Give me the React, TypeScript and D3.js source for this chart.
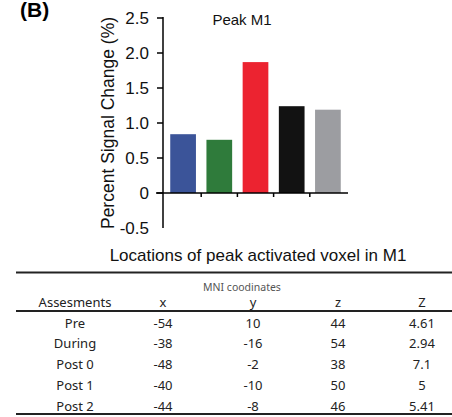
import * as d3 from 'd3'

// Bar chart data
const CATEGORIES = ['Pre', 'During', 'Post 0', 'Post 1', 'Post 2']
const SIGNAL = [0.84, 0.76, 1.87, 1.24, 1.19]
const BAR_COLORS = ['#3b5499', '#2f7b3b', '#ec2330', '#121212', '#9c9da1']
const Y_TICKS = [2.5, 2.0, 1.5, 1.0, 0.5, 0, -0.5]

// Table data
const TABLE_HEAD = ['Assesments', 'x', 'y', 'z', 'Z']
const COORD_X = [-54, -38, -48, -40, -44]
const COORD_Y = [10, -16, -2, -10, -8]
const COORD_Z = [44, 54, 38, 50, 46]
const Z_SCORE = ['4.61', '2.94', '7.1', '5', '5.41']

const W = 452
const H = 417

const App = () => {
  const y = d3.scaleLinear().domain([-0.5, 2.5]).range([228, 18])
  const x = d3.scaleBand().domain(CATEGORIES).range([163, 348]).paddingInner(0.29).paddingOuter(0.2)
  const step = x.step()
  const bw = x.bandwidth()
  const sepTicks = CATEGORIES.slice(1).map(c => (x(c) as number) - (step - bw) / 2)

  const colPos = [75, 163, 253, 338, 422]
  const rowY = d3.scaleLinear().domain([0, 4]).range([323, 406])

  const labelFont = 'Liberation Sans, Arial, sans-serif'
  const tableFont = '"Noto Sans", "DejaVu Sans", sans-serif'

  const rows = CATEGORIES.map((c, i) => [c, String(COORD_X[i]), String(COORD_Y[i]), String(COORD_Z[i]), Z_SCORE[i]])

  return (
    <svg width={W} height={H} style={{ position: 'absolute', left: 0, top: 0, background: '#fff' }}>
      <text x={20} y={17} fontFamily={labelFont} fontWeight="bold" fontSize={21}>(B)</text>

      {/* bars */}
      {CATEGORIES.map((c, i) => (
        <rect key={c} x={x(c)} y={y(SIGNAL[i])} width={bw} height={y(0) - y(SIGNAL[i])} fill={BAR_COLORS[i]} />
      ))}

      {/* y axis */}
      <line x1={163} x2={163} y1={y(2.5) - 1} y2={y(-0.5)} stroke="#000" strokeWidth={1.5} />
      {Y_TICKS.map(t => (
        <g key={t}>
          {t !== -0.5 && <line x1={157} x2={163} y1={y(t)} y2={y(t)} stroke="#000" strokeWidth={1.5} />}
          <text x={149} y={y(t)} dy="0.35em" textAnchor="end" fontFamily={labelFont} fontSize={17} fill="#111">
            {t === 0 ? '0' : t.toFixed(1)}
          </text>
        </g>
      ))}

      {/* x axis */}
      <line x1={156} x2={348} y1={y(0)} y2={y(0)} stroke="#000" strokeWidth={1.5} />
      {sepTicks.map((t, i) => (
        <line key={i} x1={t} x2={t} y1={y(0)} y2={y(0) + 4} stroke="#000" strokeWidth={1.5} />
      ))}

      <text transform={`translate(114,${y(1)}) rotate(-90)`} textAnchor="middle" fontFamily={labelFont} fontSize={17.5} fill="#111">
        Percent Signal Change (%)
      </text>
      <text x={242} y={25} textAnchor="middle" fontFamily={labelFont} fontSize={15} fill="#111">Peak  M1</text>

      {/* table */}
      <text x={258} y={261} textAnchor="middle" fontFamily={labelFont} fontSize={17} fill="#111">
        Locations of peak activated voxel in M1
      </text>
      <line x1={16} x2={452} y1={272.5} y2={272.5} stroke="#222" strokeWidth={2.2} />
      <text x={242} y={287} dy="0.35em" textAnchor="middle" fontFamily={tableFont} fontSize={10.5} fill="#555">MNI coodinates</text>
      {TABLE_HEAD.map((h, i) => (
        <text key={h} x={colPos[i]} y={302} dy="0.35em" textAnchor="middle" fontFamily={tableFont} fontSize={13} fill="#222">{h}</text>
      ))}
      <line x1={16} x2={452} y1={311} y2={311} stroke="#222" strokeWidth={2} />
      {rows.map((r, ri) => (
        <g key={ri}>
          {r.map((v, ci) => (
            <text key={ci} x={colPos[ci]} y={rowY(ri)} dy="0.35em" textAnchor="middle" fontFamily={tableFont} fontSize={13} fill="#222">{v}</text>
          ))}
        </g>
      ))}
      <line x1={16} x2={452} y1={414} y2={414} stroke="#222" strokeWidth={2.2} />
    </svg>
  )
}

export default App
